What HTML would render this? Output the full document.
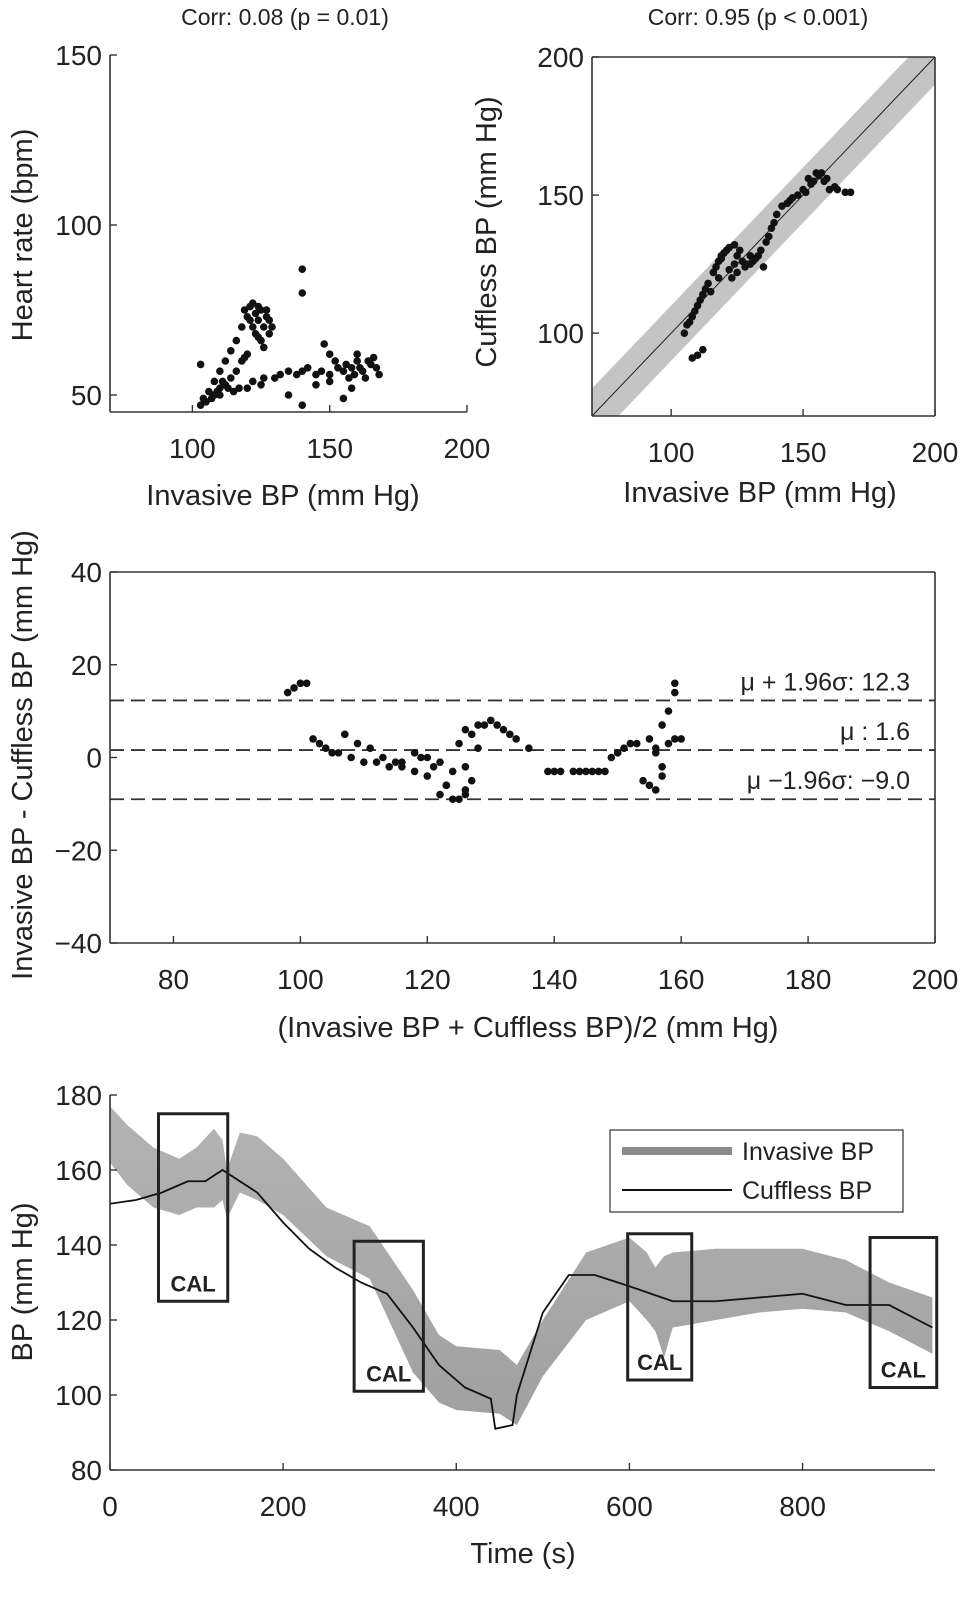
<!DOCTYPE html>
<html><head><meta charset="utf-8"><style>
html,body{margin:0;padding:0;background:#fff;}
svg{display:block;font-family:"Liberation Sans",Arial,sans-serif;}
</style></head><body>
<svg id="fig" width="980" height="1599" viewBox="0 0 980 1599" xmlns="http://www.w3.org/2000/svg">
<defs>
<linearGradient id="bandgrad" x1="0" y1="0" x2="0" y2="1"><stop offset="0" stop-color="#b3b3b3"/><stop offset="1" stop-color="#a0a0a0"/></linearGradient>
</defs>
</svg>
<script>
// ---- Panel 1 data: invasive BP vs heart rate ----
const hrX = [103,104,106,108,110,112,114,116,118,120,121,122,123,124,125,126,127,128,125,123,126,128,124,122,120,118,116,114,112,110,108,105,110,115,120,125,130,135,140,145,150,155,158,160,162,165,168,158,155,150,145,160,163,166,152,157,140,140,140,103,148,150,135,119,121,127,129,107,109,113,117,122,126,132,138,142,147,153,156,159,161,164,167,111,119,124];
const hrY = [47,49,51,54,57,60,63,66,70,73,76,77,74,72,75,70,73,68,66,68,64,72,76,70,62,60,57,55,53,52,50,48,50,51,52,53,55,57,57,56,56,57,58,60,57,59,56,52,49,54,53,62,55,61,60,55,87,80,47,59,65,62,50,75,72,75,70,49,51,52,52,54,55,56,56,58,57,58,59,56,58,60,58,54,61,67];
const corr1Title = "Corr: 0.08 (p = 0.01)";
// ---- Panel 2 data: invasive vs cuffless ----
const cfX = [105,106,108,110,112,114,116,118,120,122,124,126,127,125,123,122,124,128,130,132,134,136,138,140,142,145,148,150,152,155,158,160,163,166,168,157,154,110,112,108,115,118,130,135,121,119,107,109,111,113,117,119,125,129,131,133,137,139,144,146,151,153,156,159,162];
const cfY = [100,103,106,110,114,118,122,126,129,131,132,130,126,122,120,123,125,124,125,127,130,133,138,143,146,148,150,152,156,158,155,152,152,151,151,158,155,92,94,91,115,120,128,124,130,127,104,108,112,116,124,128,128,125,126,128,135,140,147,149,151,154,157,156,153];
const corr2Title = "Corr: 0.95 (p < 0.001)";
// ---- Panel 3 data: Bland-Altman ----
const baMean = [98,99,100,101,102,103,104,106,108,110,112,114,116,118,120,122,124,126,127,126,125,126,128,130,132,134,136,118,120,122,124,126,128,127,107,109,111,113,116,139,141,143,145,147,148,149,151,153,155,156,157,158,159,159,155,156,154,157,158,159,160,157,156,125,123,105,115,119,121,123,129,131,133,140,144,146,150,152];
const baDiff = [14,15,16,16,4,3,2,1,0,-1,-1,-2,-2,-3,-4,-8,-9,-8,-5,-2,3,6,7,8,6,4,2,1,0,-1,-3,-7,2,5,5,3,2,0,-1,-3,-3,-3,-3,-3,-3,0,2,3,4,2,7,10,14,16,-6,-7,-5,-2,3,4,4,-4,1,-9,-6,1,-1,0,-2,-6,7,7,5,-3,-3,-3,1,3];
const baLines = [12.3, 1.6, -9.0];
const baLabels = ["\u03bc + 1.96\u03c3: 12.3", "\u03bc :   1.6", "\u03bc \u22121.96\u03c3: \u22129.0"];
// ---- Panel 4 data: time series ----
const invT = [0,20,50,80,100,120,130,135,150,170,200,250,300,350,380,400,450,470,500,550,600,620,630,640,650,700,750,800,850,900,950];
const invUpper = [177,172,166,163,166,171,168,160,170,169,163,150,145,128,116,113,112,108,120,138,142,138,134,137,138,139,139,139,136,130,126];
const invLower = [162,156,150,148,150,150,152,147,154,152,148,137,131,106,98,96,95,92,105,120,125,120,117,110,118,120,122,123,122,117,111];
const cufT = [0,30,60,90,110,130,150,170,200,230,260,290,320,350,380,410,440,445,465,470,500,530,560,600,650,700,750,800,850,900,950];
const cufV = [151,152,154,157,157,160,157,154,146,139,134,130,127,118,108,102,99,91,92,100,122,132,132,129,125,125,126,127,124,124,118];
const calBoxes = [[56,136],[282,362],[598,672],[878,955]];
const calY = [[125,175],[101,141],[104,143],[102,142]];
const xTicks4 = [0,200,400,600,800];
const yTicks4 = [80,100,120,140,160,180];

const svg = document.getElementById('fig');
const NS = 'http://www.w3.org/2000/svg';
function mk(tag, attrs, parent){ const e=document.createElementNS(NS,tag); for(const k in attrs) e.setAttribute(k,attrs[k]); (parent||svg).appendChild(e); return e; }
function lin(d0,d1,r0,r1){ return v => r0 + (v-d0)/(d1-d0)*(r1-r0); }
function txt(s,x,y,size,anchor,parent,rot){ const t=mk('text',{x:x,y:y,'font-size':size,'text-anchor':anchor||'middle',fill:'#222'},parent); if(rot) t.setAttribute('transform','rotate(-90 '+x+' '+y+')'); t.textContent=s; return t; }

function axes(g, X, Y, xt, yt, opts){
  const [x0,x1]=[X.r0,X.r1],[y0,y1]=[Y.r0,Y.r1];
  mk('line',{x1:x0,y1:y0,x2:x1,y2:y0,stroke:'#333','stroke-width':1.6},g);
  mk('line',{x1:x0,y1:y0,x2:x0,y2:y1,stroke:'#333','stroke-width':1.6},g);
  if(opts.box){ mk('line',{x1:x0,y1:y1,x2:x1,y2:y1,stroke:'#333','stroke-width':1.6},g); mk('line',{x1:x1,y1:y0,x2:x1,y2:y1,stroke:'#333','stroke-width':1.6},g); }
  xt.forEach(v=>{ const px=X.f(v); const tk=mk('line',{x1:px,y1:y0,x2:px,y2:y0-7,stroke:'#333','stroke-width':1.4},g);
     
    const t=txt(String(v),px,y0+46,28,'middle',g);   });
  yt.forEach(v=>{ const py=Y.f(v); const tk=mk('line',{x1:x0,y1:py,x2:x0+7,y2:py,stroke:'#333','stroke-width':1.4},g);
     
    const t=txt(String(v).replace('-','\u2212'),x0-8,py+10,28,'end',g);   });
}
function dots(g,xs,ys,X,Y,name){ xs.forEach((v,i)=>{ const c=mk('circle',{cx:X.f(v),cy:Y.f(ys[i]),r:3.8,fill:'#111'},g);   }); }
function scale(d0,d1,r0,r1){ return {f:lin(d0,d1,r0,r1),r0:r0,r1:r1}; }

// Panel 1
{
  const g=mk('g',{});  
  const X=scale(70,200,110,467), Y=scale(45,150,412,55);
  axes(g,X,Y,[100,150,200],[50,100,150],{box:false});
  dots(g,hrX,hrY,X,Y,'hr-point');
  const t=txt(corr1Title,285,25,23,'middle',g);  
  const xl=txt('Invasive BP (mm Hg)',283,505,29,'middle',g);  
  const yl=txt('Heart  rate (bpm)',32,235,29,'middle',g,true);  
}
// Panel 2
{
  const g=mk('g',{});  
  const X=scale(70,200,592,935), Y=scale(70,200,416,57);
  const cp=mk('clipPath',{id:'cp2'},g); mk('rect',{x:592,y:57,width:343,height:359},cp);
  const band=mk('polygon',{points:[[X.f(60),Y.f(50)],[X.f(210),Y.f(200)],[X.f(200),Y.f(210)],[X.f(50),Y.f(60)]].map(p=>p.join(',')).join(' '),fill:'#c4c4c4','clip-path':'url(#cp2)'},g);
   
  const id=mk('line',{x1:X.f(70),y1:Y.f(70),x2:X.f(200),y2:Y.f(200),stroke:'#222','stroke-width':1},g);
   
  axes(g,X,Y,[100,150,200],[100,150,200],{box:true});
  dots(g,cfX,cfY,X,Y,'bp-point');
  const t=txt(corr2Title,758,25,23,'middle',g);  
  const xl=txt('Invasive BP (mm Hg)',760,502,29,'middle',g);  
  const yl=txt('Cuffless BP (mm Hg)',496,232,29,'middle',g,true);  
}
// Panel 3
{
  const g=mk('g',{});  
  const X=scale(70,200,110,935), Y=scale(-40,40,943,572);
  baLines.forEach((v,i)=>{ const l=mk('line',{x1:110,y1:Y.f(v),x2:935,y2:Y.f(v),stroke:'#333','stroke-width':1.8,'stroke-dasharray':'14,7'},g);
     
    const t=txt(baLabels[i],910,Y.f(v)-10,25,'end',g);   });
  axes(g,X,Y,[80,100,120,140,160,180,200],[-40,-20,0,20,40],{box:true});
  dots(g,baMean,baDiff,X,Y,'difference-point');
  const xl=txt('(Invasive BP + Cuffless BP)/2 (mm Hg)',528,1037,29,'middle',g);  
  const yl=txt('Invasive BP - Cuffless BP (mm Hg)',32,755,29,'middle',g,true);  
}
// Panel 4
{
  const g=mk('g',{});  
  const X=scale(0,953,110,935), Y=scale(80,180,1470,1095);
  const pts=invT.map((t,i)=>X.f(t)+','+Y.f(invUpper[i])).concat(invT.slice().reverse().map((t,j)=>X.f(t)+','+Y.f(invLower[invT.length-1-j])));
  const band=mk('polygon',{points:pts.join(' '),fill:'url(#bandgrad)'},g);
   
  const line=mk('polyline',{points:cufT.map((t,i)=>X.f(t)+','+Y.f(cufV[i])).join(' '),fill:'none',stroke:'#111','stroke-width':1.8},g);
   
  calBoxes.forEach((b,i)=>{ const x0=X.f(b[0]),x1=X.f(b[1]),y0=Y.f(calY[i][1]),y1=Y.f(calY[i][0]);
    const r=mk('rect',{x:x0,y:y0,width:x1-x0,height:y1-y0,fill:'none',stroke:'#222','stroke-width':3},g);
     
    const t=txt('CAL',(x0+x1)/2,y1-10,22,'middle',g); t.setAttribute('font-weight','bold');   });
  axes(g,X,Y,xTicks4,yTicks4,{box:false});
  const lg=mk('g',{},g);  
  mk('rect',{x:610,y:1130,width:293,height:82,fill:'#fff',stroke:'#333','stroke-width':1.2},lg);
  mk('line',{x1:622,y1:1151,x2:732,y2:1151,stroke:'#8a8a8a','stroke-width':8},lg);
  mk('line',{x1:622,y1:1190,x2:732,y2:1190,stroke:'#111','stroke-width':2},lg);
  const a=txt('Invasive BP',742,1160,25,'start',lg);  
  const b=txt('Cuffless BP',742,1199,25,'start',lg);  
  const xl=txt('Time (s)',523,1563,29,'middle',g);  
  const yl=txt('BP (mm Hg)',32,1282,29,'middle',g,true);  
}
</script>
</body></html>
